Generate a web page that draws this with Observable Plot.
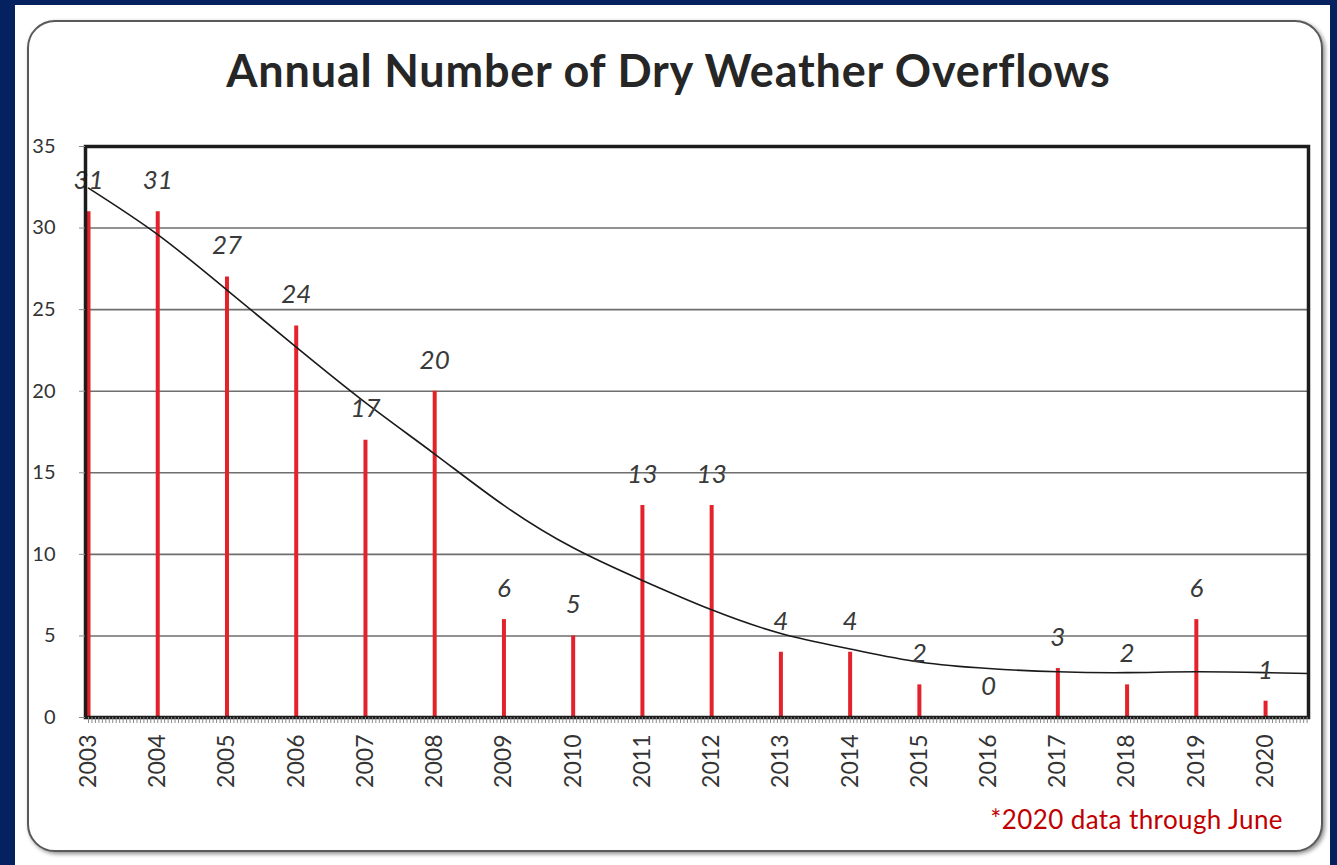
<!DOCTYPE html>
<html>
<head>
<meta charset="utf-8">
<script src="https://cdn.jsdelivr.net/npm/d3@7"></script>
<script src="https://cdn.jsdelivr.net/npm/@observablehq/plot@0.6"></script>
<style>
  html, body { margin: 0; padding: 0; }
  body {
    width: 1337px; height: 865px; overflow: hidden;
    background: #06215f; position: relative;
    font-family: Lato, "Open Sans", sans-serif;
  }
  #sheet {
    position: absolute; left: 15px; top: 5px; width: 1315px; height: 860px;
    background: #ffffff;
  }
  #card {
    position: absolute; left: 27px; top: 20px; width: 1292px; height: 828px;
    border: 2px solid #5a5a5a; border-radius: 28px;
    box-shadow: 2px 2px 4px rgba(0,0,0,0.45);
    background: #ffffff;
  }
  #title {
    position: absolute; left: 0; width: 1337px; top: 48px;
    text-align: center; font-weight: 700; font-size: 45px; line-height: 1;
    color: #262626; letter-spacing: 0.8px;
  }
  #chart { position: absolute; left: 0; top: 130px; }
  #note {
    position: absolute; right: 54px; top: 806px;
    font-size: 26px; line-height: 1; color: #c00000; letter-spacing: 0.4px;
  }
</style>
</head>
<body>
<div id="sheet"></div>
<div id="card"></div>
<div id="title">Annual Number of Dry Weather Overflows</div>
<div id="chart"></div>
<div id="note">*2020 data through June</div>
<script>
// Dry weather overflows per year (2020 is partial: January–June)
const years = [2003, 2004, 2005, 2006, 2007, 2008, 2009, 2010, 2011, 2012, 2013, 2014, 2015, 2016, 2017, 2018, 2019, 2020];
const overflows = [31, 31, 27, 24, 17, 20, 6, 5, 13, 13, 4, 4, 2, 0, 3, 2, 6, 1];

// Smoothed trend line through the annual counts
const trendYears = [2003, 2004, 2005, 2006, 2007, 2008, 2009, 2010, 2011, 2012, 2013, 2014, 2015, 2016, 2017, 2018, 2019, 2020, 2020.62];
const trendValues = [32.45, 29.6, 26.2, 22.7, 19.3, 16.15, 13.0, 10.4, 8.4, 6.6, 5.15, 4.2, 3.4, 3.0, 2.8, 2.75, 2.8, 2.75, 2.7];

const yTicks = [0, 5, 10, 15, 20, 25, 30, 35];
const xMax = 2020.62;

const bars = years.map((year, i) => ({year, value: overflows[i]}));
const trend = trendYears.map((year, i) => ({year, value: trendValues[i]}));
const rulerTicks = d3.range(years[0], xMax, 0.05);

const chart = Plot.plot({
  width: 1337,
  height: 680,
  marginLeft: 85,
  marginRight: 29,
  marginTop: 16,
  marginBottom: 93,
  style: {background: "transparent", fontFamily: "Lato, 'Open Sans', sans-serif", overflow: "visible"},
  x: {domain: [years[0], xMax], insetLeft: 3, axis: null},
  y: {domain: [0, 35], axis: null},
  marks: [
    // horizontal gridlines
    Plot.ruleY(yTicks.filter(d => d > 0 && d < 35), {stroke: "#6e6e6e", strokeWidth: 1.6}),
    // annual counts as thin red bars
    Plot.ruleX(bars, {x: "year", y1: 0, y2: "value", stroke: "#e3222b", strokeWidth: 4}),
    // trend line
    Plot.line(trend, {x: "year", y: "value", curve: "natural", stroke: "#1a1a1a", strokeWidth: 1.6}),
    // value labels
    Plot.text(bars, {x: "year", y: "value", text: d => String(d.value), dy: -31,
      fontSize: 26, fontStyle: "italic", fill: "#3a3a3a"}),
    Plot.frame({stroke: "#1c1c1c", strokeWidth: 3.5}),
    // fine ruler ticks under the baseline
    Plot.axisX({ticks: rulerTicks, tickSize: 6, tickFormat: () => "", stroke: "#8a8a8a", strokeWidth: 1, label: null}),
    // year labels
    Plot.axisX({ticks: years, tickSize: 0, tickPadding: 17, tickRotate: -90, tickFormat: d => String(d),
      fontSize: 23, fill: "#333", label: null}),
    Plot.axisY({ticks: yTicks, tickSize: 6, tickPadding: 24, fontSize: 20, fill: "#333",
      stroke: "#888", label: null})
  ]
});
document.getElementById("chart").appendChild(chart);
</script>
</body>
</html>
